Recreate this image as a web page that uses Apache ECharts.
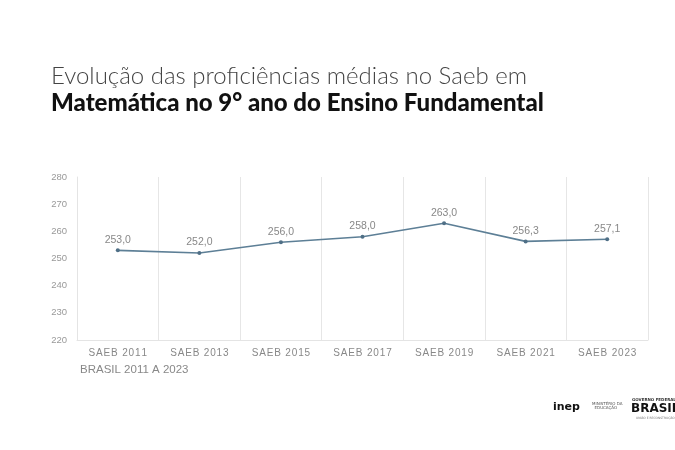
<!DOCTYPE html>
<html><head><meta charset="utf-8">
<script src="https://cdn.jsdelivr.net/npm/echarts@6/dist/echarts.min.js"></script>
<style>html,body{margin:0;padding:0;background:#fff}#c{width:675px;height:450px}</style>
</head><body><div id="c"></div>
<script>
const categories = ['SAEB 2011','SAEB 2013','SAEB 2015','SAEB 2017','SAEB 2019','SAEB 2021','SAEB 2023'];
const values = [253.0, 252.0, 256.0, 258.0, 263.0, 256.3, 257.1];
const yTicks = {min: 220, max: 280, interval: 10};

const chart = echarts.init(document.getElementById('c'));
chart.setOption({
  backgroundColor: '#fff',
  animation: false,
  title: [
    {text: 'Evolução das proficiências médias no Saeb em', left: 46, top: 59,
     textStyle: {fontFamily: 'Lato', fontWeight: 300, fontSize: 24, color: '#444'}},
    {text: 'Matemática no 9° ano do Ensino Fundamental', left: 46, top: 86,
     textStyle: {fontFamily: 'Lato', fontWeight: 900, fontSize: 24, color: '#111'}}
  ],
  grid: {left: 77, right: 27, top: 177, bottom: 110},
  xAxis: {
    type: 'category', data: categories, boundaryGap: true,
    axisLine: {show: true, lineStyle: {color: '#e4e4e4'}},
    axisTick: {show: false},
    splitLine: {show: true, interval: 0, lineStyle: {color: '#e6e6e6'}},
    axisLabel: {color: '#888', fontSize: 10, fontFamily: 'Liberation Sans', margin: 8, interval: 0,
      formatter: v => v.split('').join('\u200A')}
  },
  yAxis: {
    type: 'value', min: yTicks.min, max: yTicks.max, interval: yTicks.interval,
    axisLine: {show: true, lineStyle: {color: '#e4e4e4'}},
    axisTick: {show: false},
    splitLine: {show: false},
    axisLabel: {color: '#999', fontSize: 9.5, fontFamily: 'Liberation Sans', margin: 10}
  },
  series: [{
    type: 'line', data: values,
    symbol: 'circle', symbolSize: 4,
    lineStyle: {color: '#5d7f96', width: 1.6},
    itemStyle: {color: '#4f6f86'},
    label: {show: true, position: 'top', distance: 3, color: '#888', fontSize: 10.5,
      fontFamily: 'Liberation Sans', formatter: p => p.value.toFixed(1).replace('.', ',')}
  }],
  graphic: [
    {type: 'text', left: 80, top: 364, style: {text: 'BRASIL 2011 A 2023', fill: '#888', font: '11.5px "Liberation Sans"'}},
    {type: 'text', left: 553, top: 402, style: {text: 'inep', fill: '#111', font: 'bold 11px "DejaVu Sans"'}},
    {type: 'text', left: 592, top: 402, style: {text: 'MINISTÉRIO DA\n  EDUCAÇÃO', fill: '#555', font: '4px "DejaVu Sans"'}},
    {type: 'text', left: 632, top: 398, style: {text: 'GOVERNO FEDERAL', fill: '#333', font: 'bold 4px "DejaVu Sans"'}},
    {type: 'text', left: 631, top: 403, style: {text: 'BRASIL', fill: '#111', font: 'bold 12px "DejaVu Sans"'}},
    {type: 'text', left: 636, top: 417, style: {text: 'UNIÃO E RECONSTRUÇÃO', fill: '#777', font: '3px "DejaVu Sans"'}}
  ]
});
</script></body></html>
